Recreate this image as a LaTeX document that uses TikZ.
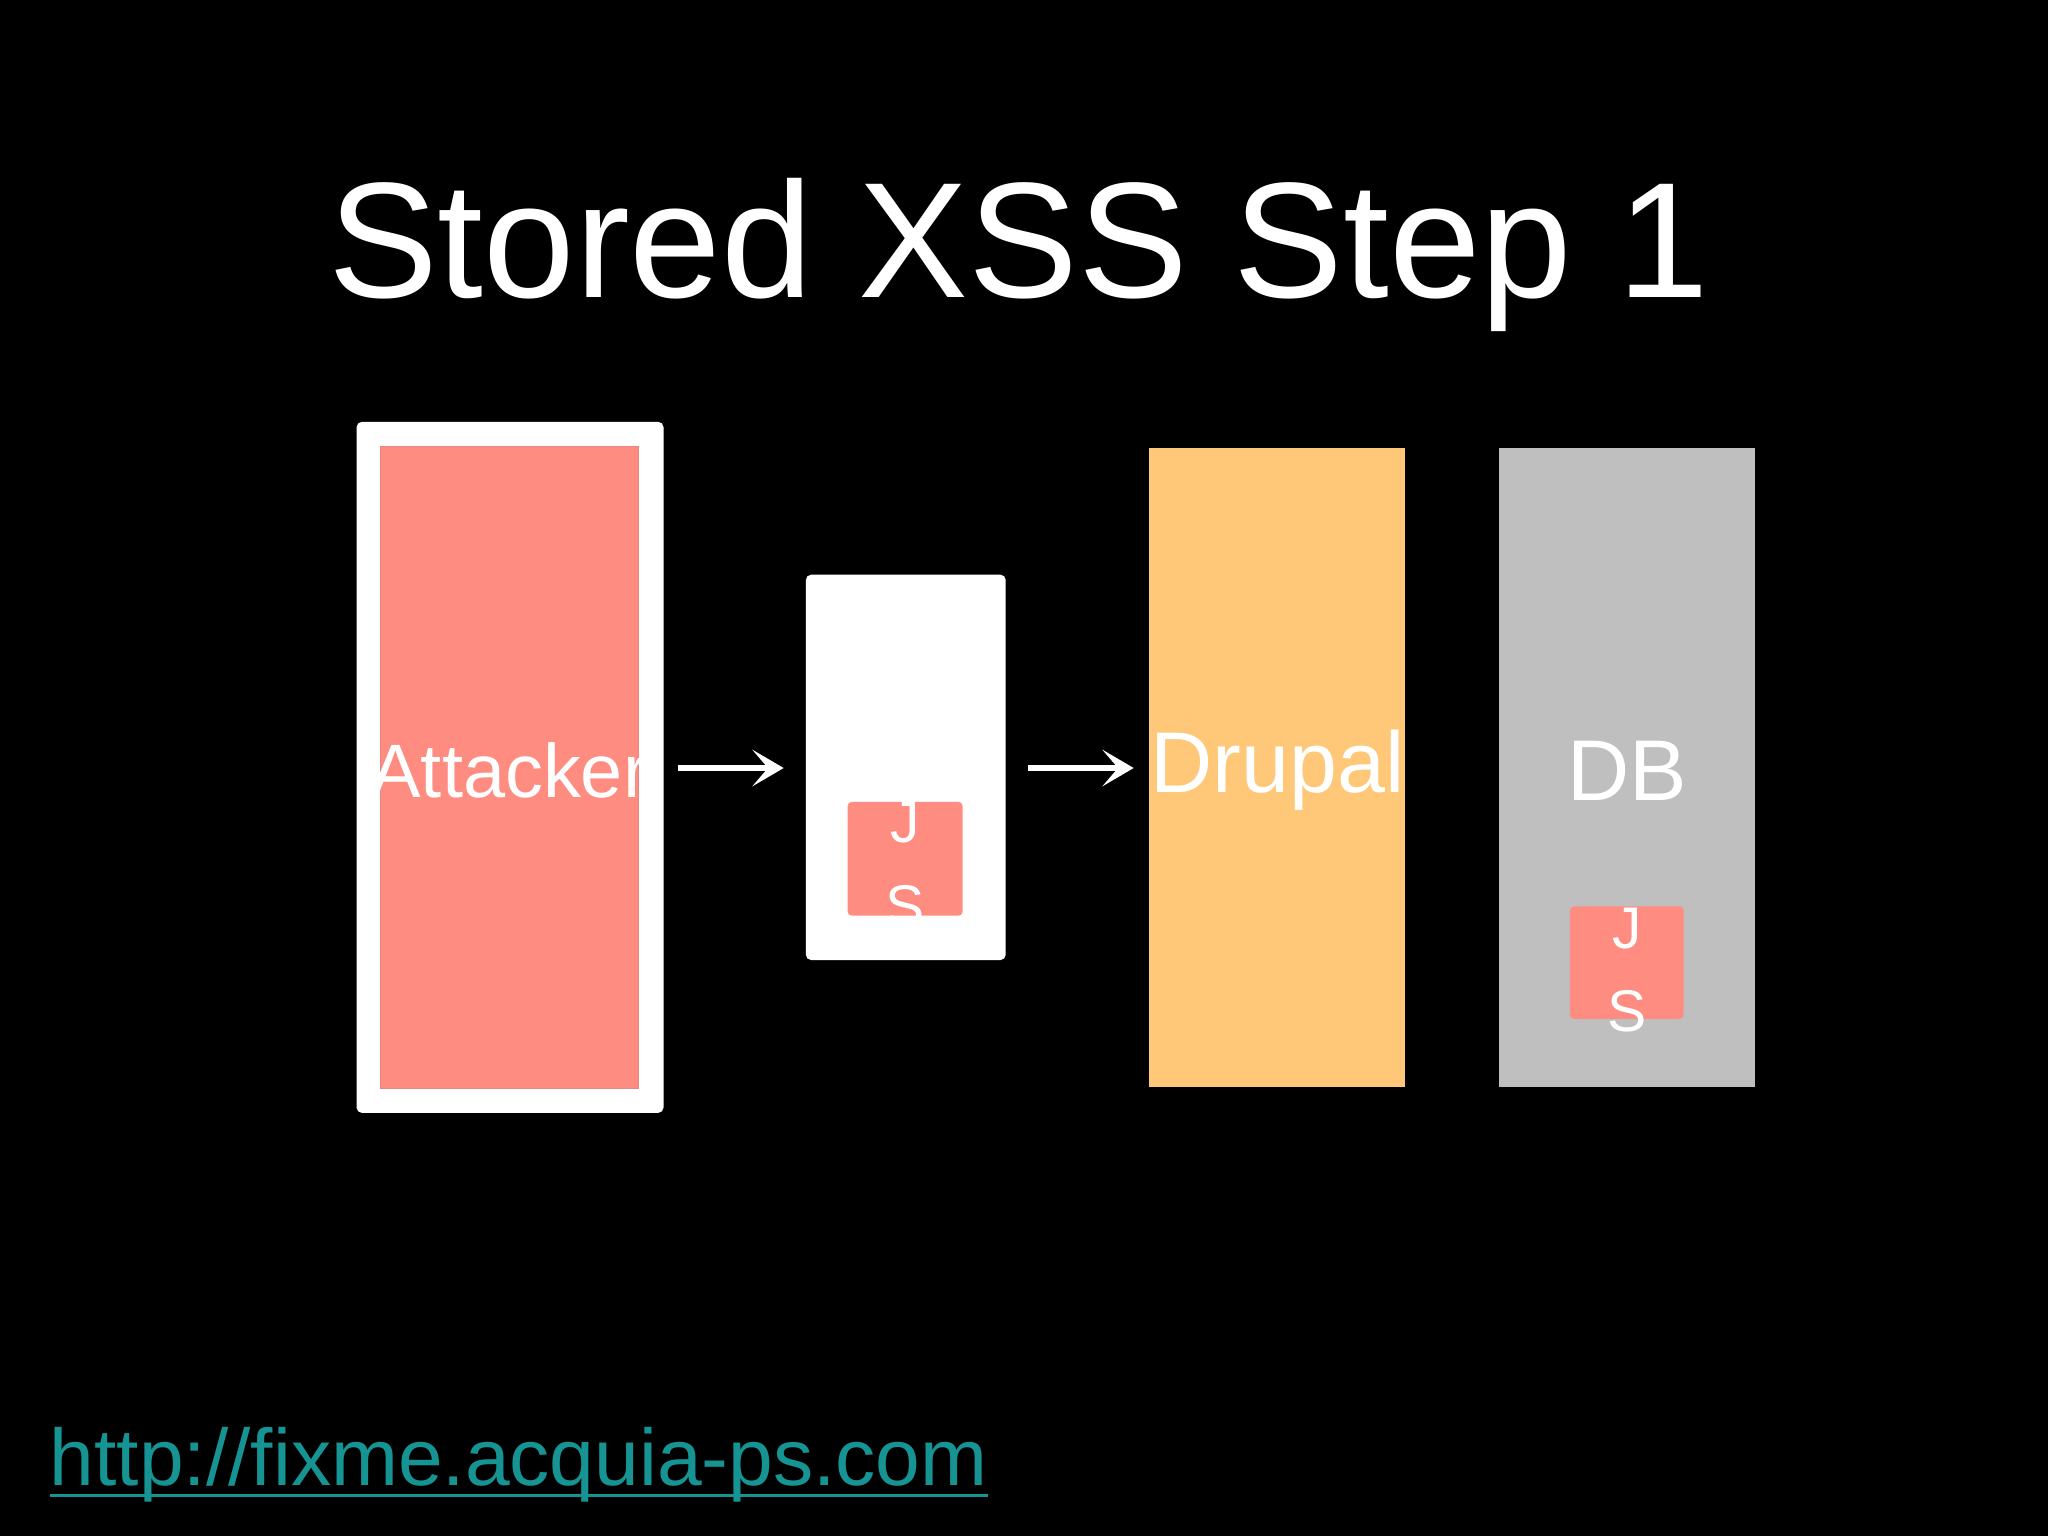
\documentclass[tikz,border=0pt]{standalone}
\usepackage{fontspec}
\setmainfont{Liberation Sans}
\usetikzlibrary{arrows.meta}
\definecolor{salmon}{HTML}{FF8C80}
\definecolor{orangeb}{HTML}{FFC778}
\definecolor{grayb}{HTML}{BFBFBF}
\definecolor{teal}{HTML}{169494}
\tikzset{
  fs/.style={font=\fontsize{#1}{#1}\selectfont},
  arr/.style={white,line width=5pt,-{Stealth[length=24pt,width=28pt,inset=12pt]}},
  box/.style={inner sep=0pt,outer sep=0pt},
}
\begin{document}
\begin{tikzpicture}[x=1pt,y=-1pt]
\fill[black] (0,0) rectangle (1568,1176);
\useasboundingbox (0,0) rectangle (1568,1176);
\node[fs=126,white,anchor=base] (title) at (780,228) {Stored XSS Step 1};
% attacker
\fill[white,rounded corners=4pt] (273,323) rectangle (508,852);
\fill[salmon,draw=salmon!80!gray] (291,342) rectangle (489,833);
\node[fs=58,white] (att) at (390,590) {Attacker};
% white payload box
\fill[white,rounded corners=4pt] (617,440) rectangle (770,735);
\fill[salmon,rounded corners=3pt] (649,614) rectangle (737,701);
\node[fs=45,white,anchor=base] (j1) at (693,645) {J};
\begin{scope}
\clip (649,614) rectangle (737,701);
\node[fs=45,white,anchor=base] (s1) at (693,709) {S};
\end{scope}
% drupal
\node[box,fill=orangeb,minimum width=196pt,minimum height=489pt] (drupal) at (978,587.5) {};
\node[fs=66,white] (dt) at (978,590) {Drupal};
% db
\node[box,fill=grayb,minimum width=196pt,minimum height=489pt] (db) at (1246,587.5) {};
\node[fs=66,white] (dbt) at (1246,590) {DB};
\fill[salmon,rounded corners=3pt] (1202,694) rectangle (1289,780);
\node[fs=45,white,anchor=base] (j2) at (1246,726) {J};
\node[fs=45,white,anchor=base] (s2) at (1246,790) {S};
% arrows
\coordinate (a1s) at (519,588);
\coordinate (a1e) at (600,588);
\draw[arr] (a1s) -- (a1e);
\coordinate (a2s) at (787,588);
\coordinate (a2e) at (868,588);
\draw[arr] (a2s) -- (a2e);
% link
\node[fs=61.5,teal,anchor=base west,inner sep=0pt] (link) at (38,1137) {http://fixme.acquia-ps.com};
\draw[teal,line width=2pt] ([yshift=-8pt]link.base west) -- ([yshift=-8pt]link.base east);
\end{tikzpicture}
\end{document}
